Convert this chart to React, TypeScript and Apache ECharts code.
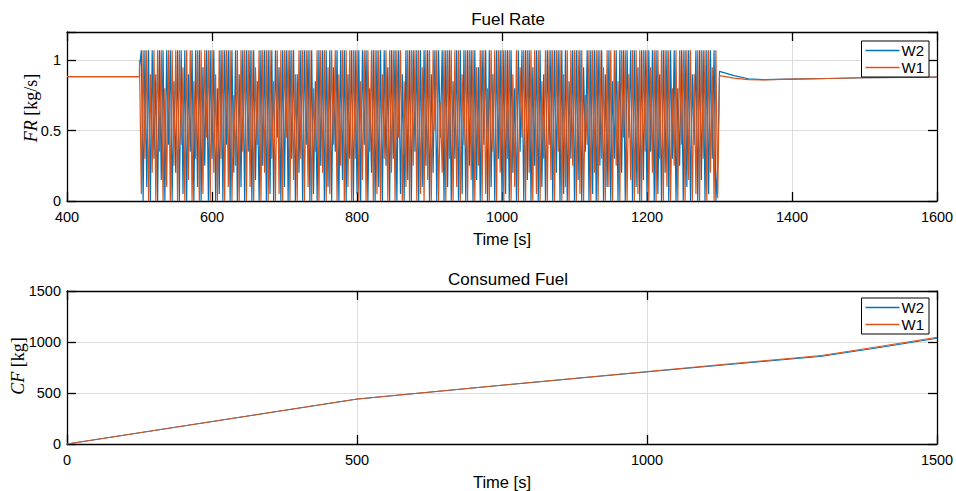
import React, { useEffect, useRef } from "react";
import * as echarts from "echarts";

// ---------- Fuel Rate data ----------
const RATE_HEAD_T = [400, 500];
const W1_RATE_HEAD = [0.883, 0.883];
const W2_RATE_HEAD = [0.883, 0.883];

const OSC_T0 = 500;
const OSC_DT = 2.5;
const W1_OSC = [
  1.0, 0.05, 1.07, 0.3, 1.07, 0.0, 0.9, 0.2, 1.07, 0.0,
  1.07, 0.35, 1.07, 0.0, 0.8, 0.1, 1.07, 0.0, 1.07, 0.25,
  1.07, 0.0, 1.07, 0.4, 0.95, 0.0, 1.07, 0.15, 1.07, 0.0,
  0.85, 0.3, 1.07, 0.0, 1.07, 0.05, 1.07, 0.45, 1.07, 0.0,
  1.07, 0.2, 0.9, 0.0, 1.07, 0.3, 1.07, 0.0, 1.07, 0.1,
  1.07, 0.0, 0.75, 0.25, 1.07, 0.0, 1.07, 0.35, 1.07, 0.0,
  1.07, 0.1, 1.07, 0.0, 0.95, 0.4, 1.07, 0.0, 1.07, 0.2,
  1.07, 0.0, 1.07, 0.3, 0.85, 0.0, 1.07, 0.05, 1.07, 0.0,
  1.07, 0.45, 1.07, 0.0, 1.07, 0.15, 0.9, 0.0, 1.07, 0.3,
  1.07, 0.0, 1.07, 0.1, 1.07, 0.0, 0.8, 0.35, 1.07, 0.0,
  1.07, 0.2, 1.07, 0.0, 0.95, 0.05, 1.07, 0.4, 1.07, 0.0,
  0.9, 0.25, 1.07, 0.0, 1.07, 0.1, 1.07, 0.0, 1.07, 0.3,
  1.07, 0.0, 0.85, 0.15, 1.07, 0.0, 1.07, 0.35, 1.07, 0.0,
  1.07, 0.05, 1.07, 0.0, 0.9, 0.3, 1.07, 0.0, 1.07, 0.2,
  1.07, 0.0, 1.07, 0.45, 1.07, 0.0, 0.85, 0.1, 1.07, 0.0,
  1.07, 0.25, 1.07, 0.0, 1.07, 0.05, 0.95, 0.0, 1.07, 0.15,
  1.07, 0.0, 1.07, 0.5, 1.07, 0.0, 0.7, 0.2, 1.07, 0.0,
  1.07, 0.3, 1.07, 0.0, 1.07, 0.1, 1.07, 0.0, 0.9, 0.4,
  1.07, 0.0, 1.07, 0.15, 1.07, 0.0, 0.95, 0.25, 1.07, 0.0,
  1.07, 0.05, 0.8, 0.0, 1.07, 0.35, 1.07, 0.0, 1.07, 0.2,
  1.07, 0.0, 1.07, 0.3, 1.07, 0.0, 0.9, 0.1, 1.07, 0.0,
  0.95, 0.45, 1.07, 0.0, 1.07, 0.2, 1.07, 0.0, 1.07, 0.05,
  1.07, 0.0, 0.85, 0.3, 1.07, 0.0, 1.07, 0.15, 1.07, 0.0,
  1.07, 0.35, 1.07, 0.0, 0.9, 0.1, 1.07, 0.0, 1.07, 0.25,
  1.07, 0.0, 1.07, 0.05, 1.07, 0.0, 0.75, 0.4, 1.07, 0.0,
  1.07, 0.2, 1.07, 0.0, 1.07, 0.3, 0.95, 0.0, 1.07, 0.1,
  1.07, 0.0, 1.07, 0.25, 0.85, 0.0, 1.07, 0.45, 1.07, 0.0,
  0.9, 0.15, 1.07, 0.0, 1.07, 0.05, 1.07, 0.0, 1.07, 0.35,
  1.07, 0.0, 0.95, 0.2, 1.07, 0.0, 1.07, 0.3, 1.07, 0.0,
  1.07, 0.1, 1.07, 0.0, 0.8, 0.25, 1.07, 0.0, 1.07, 0.4,
  1.07, 0.0, 1.07, 0.15, 1.07, 0.0, 0.9, 0.05, 1.07, 0.0,
  1.07, 0.3, 1.07, 0.0, 1.07, 0.2, 0.95, 0.0, 1.07, 0.02,
];
const W2_OSC = [
  0.95, 1.07, 0.0, 1.07, 0.1, 1.07, 0.0, 1.07, 0.3, 0.9,
  0.0, 1.07, 0.15, 1.07, 0.0, 1.07, 0.4, 1.07, 0.0, 0.85,
  0.2, 1.07, 0.0, 1.07, 0.05, 1.07, 0.0, 0.9, 0.35, 1.07,
  0.0, 1.07, 0.1, 1.07, 0.0, 0.95, 0.25, 1.07, 0.0, 1.07,
  0.3, 1.07, 0.0, 0.8, 0.05, 1.07, 0.0, 1.07, 0.4, 1.07,
  0.0, 1.07, 0.2, 1.07, 0.0, 0.9, 0.1, 1.07, 0.0, 1.07,
  0.35, 1.07, 0.0, 1.07, 0.15, 0.85, 0.0, 1.07, 0.25, 1.07,
  0.0, 1.07, 0.05, 1.07, 0.0, 1.07, 0.45, 0.95, 0.0, 1.07,
  0.1, 1.07, 0.0, 1.07, 0.3, 1.07, 0.0, 0.9, 0.2, 1.07,
  0.0, 1.07, 0.4, 1.07, 0.0, 1.07, 0.05, 0.85, 0.0, 1.07,
  0.25, 1.07, 0.0, 1.07, 0.1, 1.07, 0.0, 0.95, 0.35, 1.07,
  0.0, 1.07, 0.15, 1.07, 0.0, 0.9, 0.3, 1.07, 0.0, 1.07,
  0.05, 1.07, 0.0, 1.07, 0.4, 1.07, 0.0, 0.8, 0.2, 1.07,
  0.0, 1.07, 0.1, 1.07, 0.0, 1.07, 0.25, 0.95, 0.0, 1.07,
  0.3, 1.07, 0.0, 1.07, 0.05, 0.9, 0.0, 1.07, 0.15, 1.07,
  0.0, 1.07, 0.35, 1.07, 0.0, 1.07, 0.1, 1.07, 0.25, 1.07,
  0.0, 0.9, 0.2, 1.07, 0.0, 1.07, 0.45, 1.07, 0.0, 1.07,
  0.1, 1.07, 0.0, 0.85, 0.3, 1.07, 0.0, 1.07, 0.05, 1.07,
  0.0, 1.07, 0.25, 1.07, 0.0, 1.07, 0.15, 0.95, 0.0, 1.07,
  0.4, 1.07, 0.0, 1.07, 0.1, 0.9, 0.0, 1.07, 0.3, 1.07,
  0.0, 1.07, 0.05, 1.07, 0.0, 1.07, 0.2, 0.8, 0.0, 1.07,
  0.35, 1.07, 0.0, 1.07, 0.15, 1.07, 0.0, 0.95, 0.25, 1.07,
  0.0, 1.07, 0.1, 0.9, 0.0, 1.07, 0.4, 1.07, 0.0, 1.07,
  0.2, 1.07, 0.0, 1.07, 0.05, 1.07, 0.0, 0.85, 0.3, 1.07,
  0.0, 1.07, 0.15, 1.07, 0.0, 0.95, 0.35, 1.07, 0.0, 1.07,
  0.05, 1.07, 0.0, 1.07, 0.25, 1.07, 0.0, 0.9, 0.1, 1.07,
  0.0, 0.85, 0.3, 1.07, 0.0, 1.07, 0.2, 1.07, 0.0, 1.07,
  0.45, 1.07, 0.0, 1.07, 0.1, 0.95, 0.0, 1.07, 0.15, 1.07,
  0.0, 1.07, 0.35, 1.07, 0.0, 1.07, 0.05, 0.9, 0.0, 1.07,
  0.2, 1.07, 0.0, 1.07, 0.3, 1.07, 0.0, 0.8, 0.25, 1.07,
  0.0, 1.07, 0.1, 1.07, 0.0, 0.9, 0.4, 1.07, 0.0, 1.07,
  0.15, 1.07, 0.0, 1.07, 0.05, 1.07, 0.3, 1.07, 0.0, 0.25,
];

const RATE_TAIL_T = [1300, 1320, 1340, 1360, 1400, 1450, 1500, 1600];
const W1_RATE_TAIL = [0.89, 0.872, 0.862, 0.86, 0.865, 0.87, 0.875, 0.88];
const W2_RATE_TAIL = [0.92, 0.89, 0.868, 0.862, 0.865, 0.87, 0.875, 0.88];

// ---------- Consumed Fuel data ----------
const CF_T = [0, 250, 500, 750, 1000, 1150, 1300, 1400, 1500];
const W1_CF = [0, 220, 441, 577, 710, 790, 867, 955, 1046];
const W2_CF = [0, 220, 440, 576, 707, 784, 859, 945, 1036];

// ---------- ticks ----------
const RATE_X_TICKS = { min: 400, max: 1600, interval: 200 };
const RATE_Y_TICKS = { min: 0, max: 1.2, interval: 0.5 };
const CF_X_TICKS = { min: 0, max: 1500, interval: 500 };
const CF_Y_TICKS = { min: 0, max: 1500, interval: 500 };

const BLUE = "#0072BD";
const ORANGE = "#D95319";
const SANS = "Liberation Sans, Arial, Helvetica, sans-serif";
const SERIF = "Liberation Serif, Times New Roman, serif";

function buildRate(headV: number[], osc: number[], tailV: number[]) {
  const pts: [number, number][] = [];
  RATE_HEAD_T.forEach((t, i) => pts.push([t, headV[i]]));
  osc.forEach((v, i) => pts.push([OSC_T0 + i * OSC_DT, v]));
  RATE_TAIL_T.forEach((t, i) => pts.push([t, tailV[i]]));
  return pts;
}

function pairs(ts: number[], vs: number[]) {
  return ts.map((t, i) => [t, vs[i]]);
}

const GRID_COLOR = "#dcdcdc";

function mkX(grid: number, ticks: any, main: boolean, name?: string) {
  return {
    type: "value",
    gridIndex: grid,
    position: main ? "bottom" : "top",
    min: ticks.min,
    max: ticks.max,
    interval: ticks.interval,
    name: main ? name : undefined,
    nameLocation: "middle",
    nameGap: 29,
    nameTextStyle: { fontFamily: SANS, fontSize: 16.5, color: "#000" },
    axisLine: { show: true, onZero: false, lineStyle: { color: "#000", width: 1.3 } },
    axisTick: { show: true, inside: true, length: 9, lineStyle: { color: "#000", width: 1.3 } },
    axisLabel: {
      show: main,
      fontFamily: SANS,
      fontSize: 14.5,
      color: "#000",
      margin: 8,
      formatter: (v: number) => String(v),
    },
    splitLine: { show: main, lineStyle: { color: GRID_COLOR, width: 1 } },
  };
}

function mkY(grid: number, ticks: any, main: boolean, fmt?: (v: number) => string) {
  return {
    type: "value",
    gridIndex: grid,
    position: main ? "left" : "right",
    min: ticks.min,
    max: ticks.max,
    interval: ticks.interval,
    axisLine: { show: true, onZero: false, lineStyle: { color: "#000", width: 1.3 } },
    axisTick: { show: true, inside: true, length: 9, lineStyle: { color: "#000", width: 1.3 } },
    axisLabel: {
      show: main,
      fontFamily: SANS,
      fontSize: 14.5,
      color: "#000",
      margin: 6,
      formatter: fmt || ((v: number) => String(v)),
    },
    splitLine: { show: main, lineStyle: { color: GRID_COLOR, width: 1 } },
  };
}

function yName(text: string, x: number, y: number) {
  return {
    type: "text",
    x,
    y,
    rotation: Math.PI / 2,
    style: {
      text,
      fontFamily: SERIF,
      fontSize: 18,
      fill: "#000",
      align: "center",
      verticalAlign: "middle",
      rich: {
        it: { fontFamily: SERIF, fontStyle: "italic", fontSize: 18, fill: "#000", color: "#000" },
      },
    },
  };
}

export default function App() {
  const ref = useRef<HTMLDivElement>(null);
  useEffect(() => {
    if (!ref.current) return;
    const chart = echarts.init(ref.current, undefined, { renderer: "svg" });
    const legendBase = {
      orient: "vertical",
      right: 27,
      icon: "rect",
      itemWidth: 34,
      itemHeight: 1.4,
      itemGap: 0,
      padding: [1, 5, 1, 4],
      borderColor: "#000",
      borderWidth: 1,
      backgroundColor: "#fff",
      borderRadius: 0,
      textStyle: { fontFamily: SANS, fontSize: 15, lineHeight: 17, color: "#000", padding: [0, 0, 0, -3] },
      data: ["W2", "W1"],
      selectedMode: false,
    };
    chart.setOption({
      animation: false,
      backgroundColor: "#fff",
      title: [
        {
          text: "Fuel Rate",
          left: 503,
          top: 6,
          textAlign: "center",
          textStyle: { fontFamily: SANS, fontSize: 17, fontWeight: "normal", color: "#000" },
        },
        {
          text: "Consumed Fuel",
          left: 503,
          top: 266,
          textAlign: "center",
          textStyle: { fontFamily: SANS, fontSize: 17, fontWeight: "normal", color: "#000" },
        },
      ],
      legend: [
        { ...legendBase, top: 41 },
        { ...legendBase, top: 298 },
      ],
      grid: [
        { left: 67, right: 19, top: 32, height: 169, outerBoundsMode: "none", containLabel: false },
        { left: 67, right: 19, top: 291, height: 153, outerBoundsMode: "none", containLabel: false },
      ],
      graphic: [yName("{it|FR} [kg/s]", 31, 108), yName("{it|CF} [kg]", 18, 366)],
      xAxis: [
        mkX(0, RATE_X_TICKS, true, "Time [s]"),
        mkX(0, RATE_X_TICKS, false),
        mkX(1, CF_X_TICKS, true, "Time [s]"),
        mkX(1, CF_X_TICKS, false),
      ],
      yAxis: [
        mkY(0, RATE_Y_TICKS, true, (v: number) => (v > 1.1 ? "" : String(v))),
        mkY(0, RATE_Y_TICKS, false),
        mkY(1, CF_Y_TICKS, true),
        mkY(1, CF_Y_TICKS, false),
      ],
      series: [
        {
          name: "W2",
          type: "line",
          xAxisIndex: 0,
          yAxisIndex: 0,
          data: buildRate(W2_RATE_HEAD, W2_OSC, W2_RATE_TAIL),
          symbol: "none",
          lineStyle: { color: BLUE, width: 1.2 },
          itemStyle: { color: BLUE },
        },
        {
          name: "W1",
          type: "line",
          xAxisIndex: 0,
          yAxisIndex: 0,
          data: buildRate(W1_RATE_HEAD, W1_OSC, W1_RATE_TAIL),
          symbol: "none",
          lineStyle: { color: ORANGE, width: 1.2 },
          itemStyle: { color: ORANGE },
        },
        {
          name: "W2",
          type: "line",
          xAxisIndex: 2,
          yAxisIndex: 2,
          data: pairs(CF_T, W2_CF),
          symbol: "none",
          lineStyle: { color: BLUE, width: 1 },
          itemStyle: { color: BLUE },
        },
        {
          name: "W1",
          type: "line",
          xAxisIndex: 2,
          yAxisIndex: 2,
          data: pairs(CF_T, W1_CF),
          symbol: "none",
          lineStyle: { color: ORANGE, width: 1 },
          itemStyle: { color: ORANGE },
        },
      ],
    });
    return () => chart.dispose();
  }, []);
  return (
    <div
      ref={ref}
      style={{ position: "absolute", left: 0, top: 0, width: 956, height: 491, background: "#fff" }}
    />
  );
}
